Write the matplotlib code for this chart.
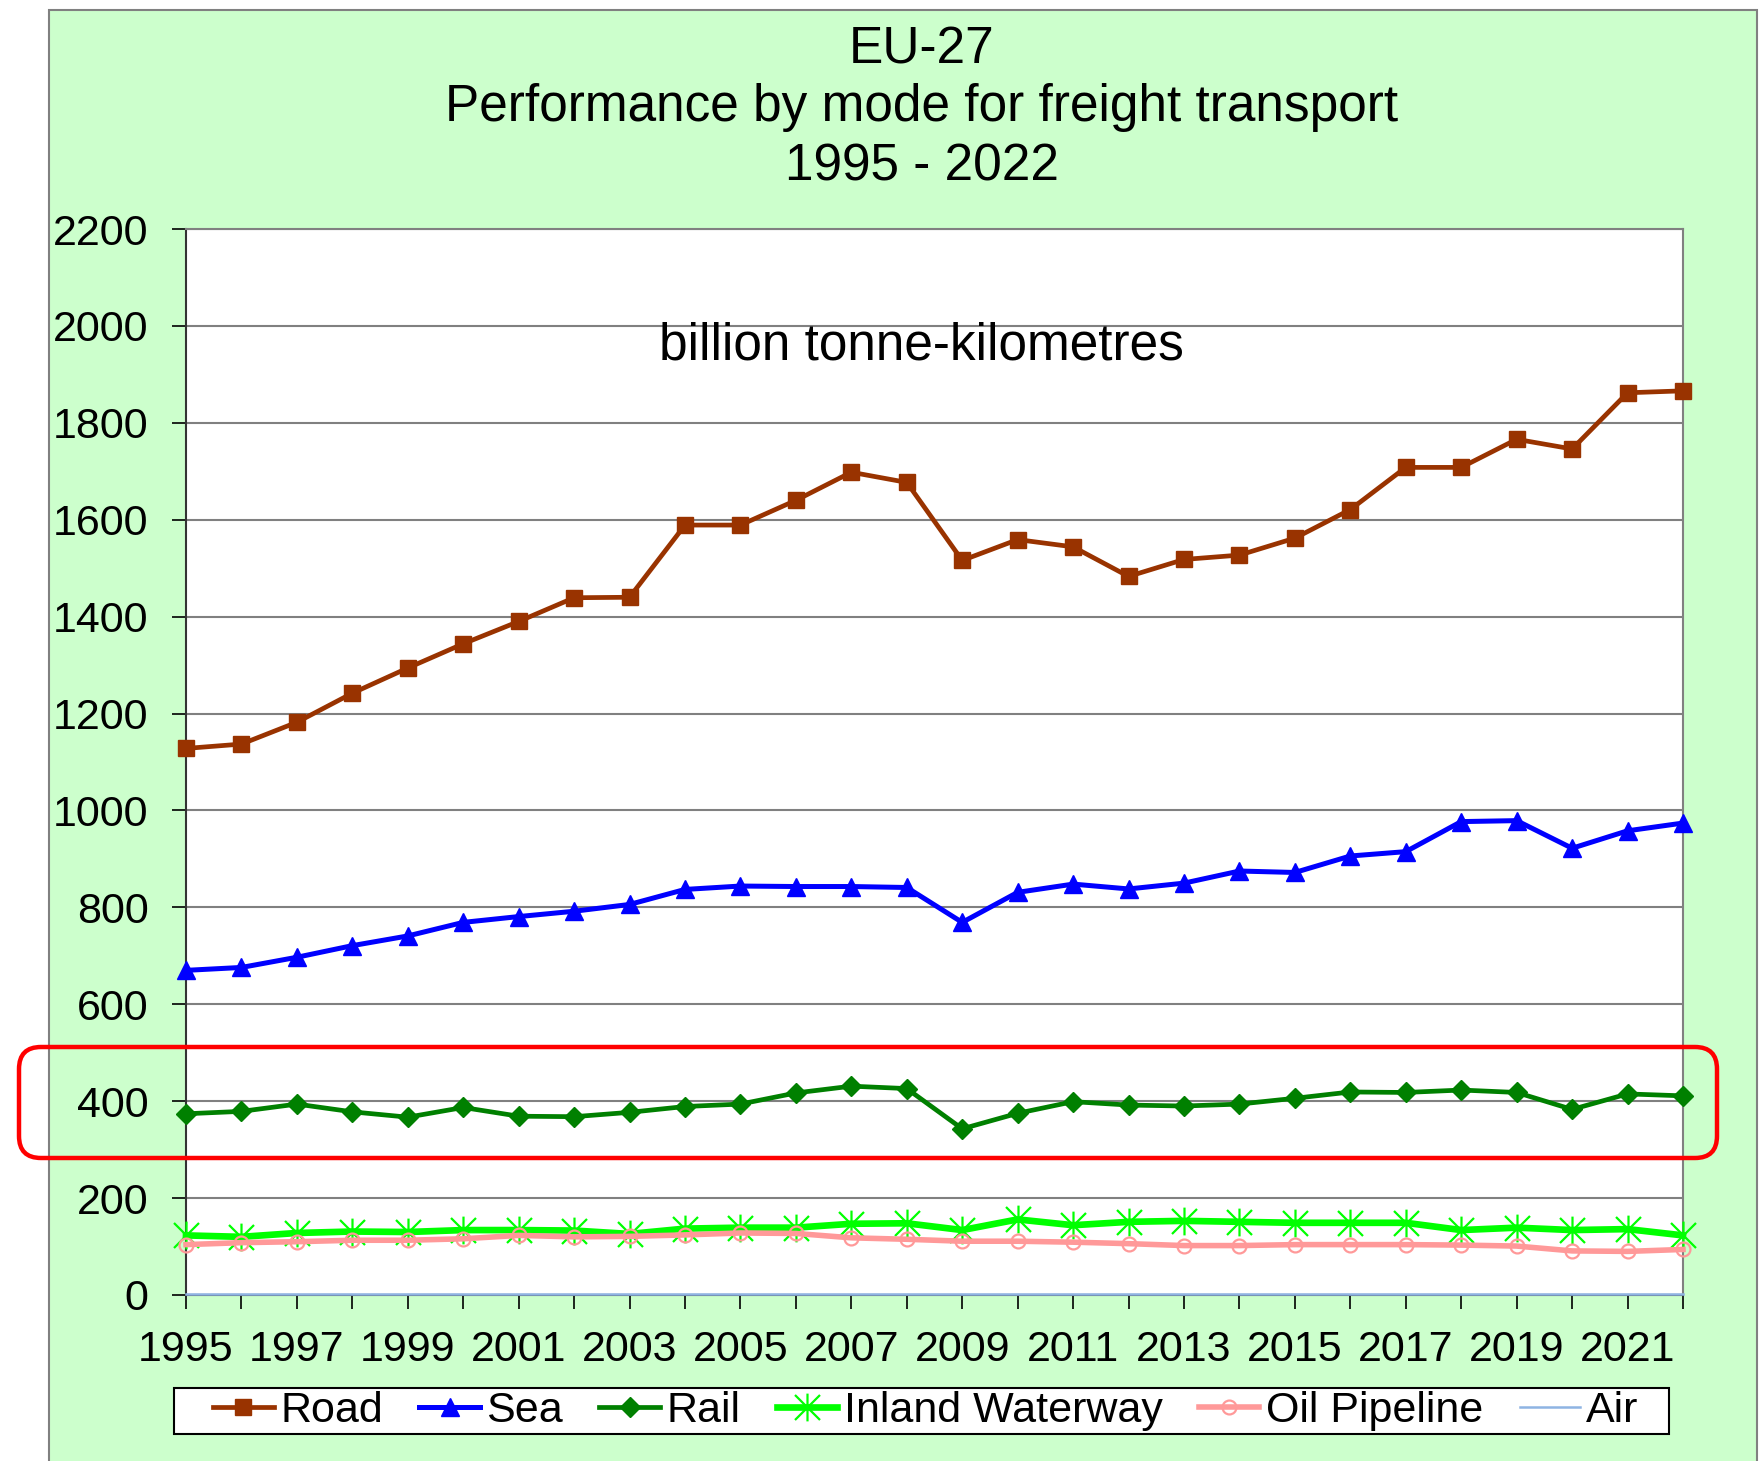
import matplotlib
matplotlib.use("Agg")
import matplotlib.pyplot as plt
from matplotlib.patches import Rectangle, FancyBboxPatch
from matplotlib.path import Path

plt.rcParams["font.family"] = ["Liberation Sans", "DejaVu Sans"]

# billion tonne-km, EU-27
years = list(range(1995, 2023))
road = [1128, 1137, 1182, 1242, 1294, 1344, 1390, 1439, 1440, 1589,
        1589, 1640, 1698, 1677, 1516, 1559, 1544, 1483, 1518, 1527,
        1562, 1621, 1708, 1708, 1766, 1746, 1862, 1866]
sea = [670, 676, 697, 721, 741, 769, 781, 792, 806, 837,
       844, 843, 843, 841, 769, 831, 848, 838, 850, 875,
       872, 906, 915, 977, 979, 922, 958, 974]
rail = [374, 379, 394, 378, 367, 387, 369, 368, 377, 389,
        394, 417, 431, 426, 343, 375, 399, 392, 390, 394,
        406, 419, 418, 423, 418, 383, 415, 411]
inland = [123, 120, 128, 131, 130, 134, 134, 133, 126, 137,
          139, 139, 147, 148, 134, 156, 144, 151, 153, 151,
          149, 149, 149, 134, 139, 134, 136, 123]
oil = [104, 108, 110, 113, 113, 116, 123, 120, 121, 124,
       128, 127, 118, 115, 111, 111, 109, 106, 102, 102,
       104, 104, 104, 103, 101, 91, 90, 94]
air = [2, 2, 2, 2, 2, 2, 2, 2, 2, 2,
       2, 2, 2, 2, 2, 2, 2, 2, 2, 2,
       2, 2, 2, 2, 2, 2, 2, 2]

labels = ["Road", "Sea", "Rail", "Inland Waterway", "Oil Pipeline", "Air"]
x_labels = [str(y) if y % 2 == 1 else "" for y in years]

# Excel style star: vertical bar plus an X
star = Path([(0, -1), (0, 1), (-0.9, -0.9), (0.9, 0.9), (-0.9, 0.9), (0.9, -0.9)],
            [Path.MOVETO, Path.LINETO] * 3)

W, H = 1759, 1461
fig = plt.figure(figsize=(W / 100, H / 100), dpi=100)
fig.add_artist(Rectangle((49 / W, -0.01), (1757 - 49) / W, 1.01 - 10 / H,
                         transform=fig.transFigure, facecolor="#CCFFCC",
                         edgecolor="#808080", linewidth=1.5, zorder=0))

ax = fig.add_axes([186 / W, 166 / H, (1683 - 186) / W, (1295 - 229) / H])
ax.set_facecolor("white")

styles = [
    (road, dict(color="#993300", marker="s", ms=11, lw=3.4)),
    (sea, dict(color="#0000FF", marker="^", ms=12.5, lw=3.6)),
    (rail, dict(color="#008000", marker="D", ms=10, lw=3.4)),
    (inland, dict(color="#00FF00", marker=star, ms=20, mew=1.6, lw=4.8)),
    (oil, dict(color="#FF9999", marker="o", ms=10, mfc="none", mew=1.6, lw=4.0)),
    (air, dict(color="#8EB4E3", lw=1.8)),
]
handles = []
for i, (vals, st) in enumerate(styles):
    h, = ax.plot(years, vals, clip_on=False, zorder=3 + i, label=labels[i], **st)
    handles.append(h)

ax.set_xlim(1995, 2022)
ax.set_ylim(0, 2200)
ax.set_yticks(range(0, 2201, 200))
ax.set_xticks(years)
ax.set_xticklabels(x_labels)
ax.yaxis.grid(True, color="#808080", linewidth=1.5)
ax.set_axisbelow(True)
ax.tick_params(axis="y", labelsize=31, length=10, width=1.2, pad=17, direction="out")
ax.tick_params(axis="x", labelsize=31, length=10, width=1.2, pad=15, direction="out")
ax.spines["left"].set_color("#333333")
ax.spines["bottom"].set_color("#333333")
ax.spines["top"].set_color("#808080")
ax.spines["right"].set_color("#808080")
for s in ax.spines.values():
    s.set_linewidth(1.5)

ax.text(0.491, 0.890, "billion tonne-kilometres", transform=ax.transAxes,
        ha="center", va="center", fontsize=37)

cx = 922 / W
for txt, ypx in [("EU-27", 50), ("Performance by mode for freight transport", 108),
                 ("1995 - 2022", 167)]:
    fig.text(cx, 1 - ypx / H, txt, ha="center", va="center", fontsize=37)

# legend box drawn separately so its padding can follow the original
fig.add_artist(Rectangle((174 / W, 1 - 1434 / H), (1669 - 174) / W, 46 / H,
                         transform=fig.transFigure, facecolor="white",
                         edgecolor="black", linewidth=1.5, zorder=1))
leg = fig.legend(handles, labels, loc="center", bbox_to_anchor=(926 / W, 1 - 1411 / H),
                 ncol=6, fontsize=31, frameon=False, handlelength=1.4,
                 handletextpad=0.15, columnspacing=0.85, borderpad=0.05)
leg.set_zorder(2)

# red highlight around the rail series
fig.add_artist(FancyBboxPatch((0.19, 3.03), 16.98, 1.11,
                              boxstyle="round,pad=0,rounding_size=0.22",
                              transform=fig.dpi_scale_trans, facecolor="none",
                              edgecolor="#FF0000", linewidth=3.2, zorder=20))

fig.savefig("out.png", dpi=100)
